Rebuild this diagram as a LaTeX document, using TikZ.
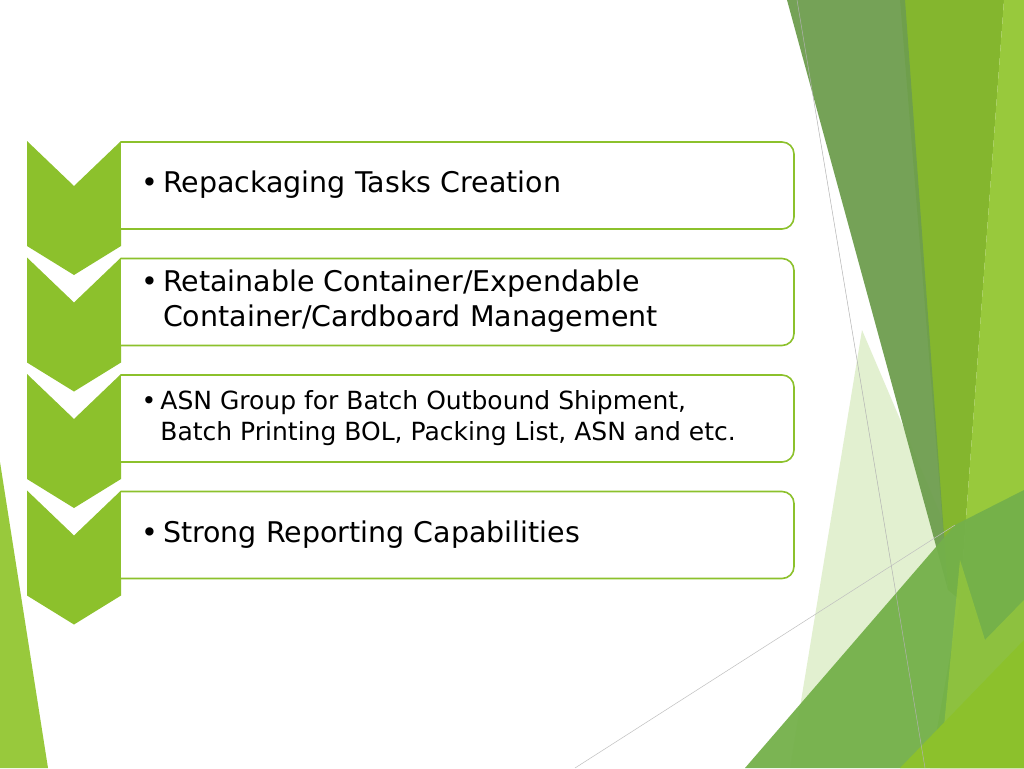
\documentclass[tikz,border=0pt]{standalone}
\usepackage{fontspec}
\setmainfont{DejaVu Sans}
\begin{document}
\begin{tikzpicture}[x=1pt,y=-1pt,
  itembox/.style={draw=chevgreen,line width=1.6pt,fill=white,rounded corners=12pt},
  itemtext/.style={anchor=west,align=left,font=\fontsize{28.5}{35}\selectfont,text=black}]
\definecolor{chevgreen}{HTML}{8CC12C}
\definecolor{darkg}{HTML}{6E9E4E}
\definecolor{oliveg}{HTML}{84B62E}
\definecolor{brightg}{HTML}{98C93C}
\definecolor{paleg}{HTML}{E2F0D0}
\definecolor{midg}{HTML}{74B04A}
\useasboundingbox (0,0) rectangle (1024,768);
\fill[white] (0,0) rectangle (1024,768);
% right decoration
\fill[paleg] (862,330) -- (790,768) -- (960,768) -- (960,560) -- cycle;
\fill[oliveg] (900,0) -- (1004,0) -- (960,600) -- (948,590) -- cycle;
\fill[darkg,opacity=0.95] (787,0) -- (905,0) -- (948,590) -- cycle;
\fill[brightg] (1004,0) -- (1024,0) -- (1024,768) -- (930,768) -- (960,600) -- cycle;
\fill[midg,opacity=0.95] (745,768) -- (955,525) -- (1024,490) -- (1024,768) -- cycle;
\fill[brightg,opacity=0.7] (940,768) -- (960,560) -- (985,640) -- (1024,600) -- (1024,768) -- cycle;
\fill[chevgreen] (900,768) -- (1024,640) -- (1024,768) -- cycle;
\draw[gray!60,line width=0.5pt] (797,0) -- (925,768);
\draw[gray!50,line width=0.5pt] (575,768) -- (955,525);
% left sliver
\fill[brightg] (0,462) -- (48,768) -- (0,768) -- cycle;
% chevrons and boxes
\foreach \i [count=\k] in {0,1,2,3}{
  \pgfmathsetmacro{\yt}{141+116.5*\i}
  \pgfmathsetmacro{\yb}{\yt+88}
  \pgfmathsetmacro{\yn}{\yt+45}
  \pgfmathsetmacro{\ys}{\yt+105}
  \pgfmathsetmacro{\yp}{\yt+134}
  \fill[chevgreen] (27,\yt) -- (74,\yn) -- (121,\yt) -- (121,\ys) -- (74,\yp) -- (27,\ys) -- cycle;
  \draw[itembox] (121,\yt+1) -- (794,\yt+1) -- (794,\yb) -- (121,\yb);
  \coordinate (c\k) at (138,\yt+44);
}
\node[itemtext] (t1) at (c1) {\textbullet\,Repackaging Tasks Creation};
\node[itemtext] (t2) at (c2) {\textbullet\,Retainable Container/Expendable\\\hphantom{\textbullet\,}Container/Cardboard Management};
\node[itemtext,font=\fontsize{25}{31}\selectfont] (t3) at (c3) {\textbullet\,ASN Group for Batch Outbound Shipment,\\\hphantom{\textbullet\,}Batch Printing BOL, Packing List, ASN and etc.};
\node[itemtext] (t4) at (c4) {\textbullet\,Strong Reporting Capabilities};
\end{tikzpicture}
\end{document}
